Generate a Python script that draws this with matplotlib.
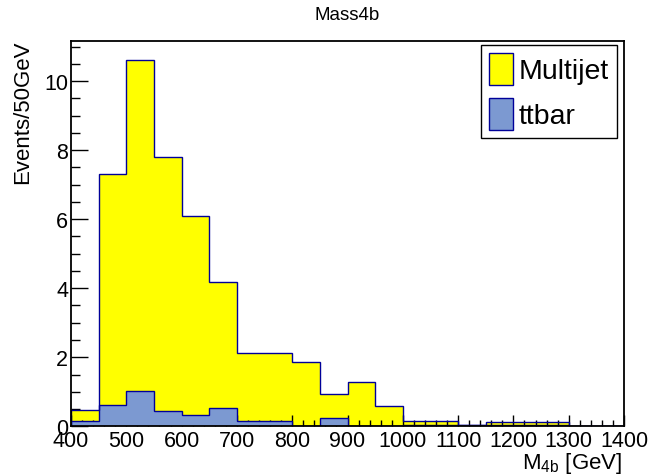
import numpy as np
import matplotlib
matplotlib.use("Agg")
import matplotlib.pyplot as plt
from matplotlib.patches import Patch
from matplotlib.ticker import MultipleLocator

plt.rcParams['font.family'] = ['Liberation Sans', 'DejaVu Sans']
plt.rcParams['mathtext.fontset'] = 'custom'
plt.rcParams['mathtext.rm'] = 'Liberation Sans'
plt.rcParams['mathtext.it'] = 'Liberation Sans'

# ---- data ----
bin_edges = list(range(400, 1401, 50))
ttbar = [0.15, 0.63, 1.01, 0.43, 0.34, 0.53, 0.14, 0.14, 0.0, 0.23,
         0.0, 0.0, 0.04, 0.04, 0.03, 0.03, 0.03, 0.03, 0.0, 0.0]
multijet = [0.33, 6.67, 9.61, 7.38, 5.74, 3.64, 1.98, 1.98, 1.85, 0.71,
            1.27, 0.58, 0.12, 0.12, 0.0, 0.09, 0.09, 0.09, 0.0, 0.0]
labels = ["Multijet", "ttbar"]
title = "Mass4b"
xlabel = r"$\mathregular{M_{4b}}$ [GeV]"
ylabel = "Events/50GeV"

edges = np.array(bin_edges, dtype=float)
tt = np.array(ttbar)
total = tt + np.array(multijet)

yellow = "#ffff00"
blue = "#7c99d1"
line = "#000099"

fig = plt.figure(figsize=(6.49, 4.77), dpi=100)
W, H = 649, 477
ax = fig.add_axes([71 / W, 1 - 427.3 / H, (624 - 71) / W, (427.3 - 42) / H])

ax.stairs(total, edges, fill=True, color=yellow, linewidth=0, zorder=1)
ax.stairs(tt, edges, fill=True, color=blue, linewidth=0, zorder=2)
ax.stairs(total, edges, fill=False, color=line, linewidth=1.0, zorder=3)
ax.stairs(tt, edges, fill=False, color=line, linewidth=1.0, zorder=4)

ax.set_xlim(400, 1400)
ax.set_ylim(0, 11.16)

ax.xaxis.set_major_locator(MultipleLocator(100))
ax.xaxis.set_minor_locator(MultipleLocator(20))
ax.yaxis.set_major_locator(MultipleLocator(2))
ax.yaxis.set_minor_locator(MultipleLocator(0.5))
ax.tick_params(axis='both', which='both', direction='in', top=False, right=False,
               width=1.0, color='black', zorder=10)
ax.tick_params(axis='x', which='major', length=8.2, pad=3, labelsize=15.5)
ax.tick_params(axis='x', which='minor', length=4.1)
ax.tick_params(axis='y', which='major', length=12.2, pad=2, labelsize=15.5)
ax.tick_params(axis='y', which='minor', length=6.2)
for sp in ax.spines.values():
    sp.set_linewidth(1.3)
    sp.set_zorder(10)

fig.text(347.5 / W, 1 - 15 / H, title, ha='center', va='center', fontsize=13.5)
fig.text(23 / W, 1 - 40 / H, ylabel, rotation=90, ha='center', va='top', fontsize=16)
fig.text(622 / W, 1 - 469 / H, xlabel, ha='right', va='baseline', fontsize=16)

handles = [Patch(facecolor=yellow, edgecolor=line, linewidth=1.0),
           Patch(facecolor=blue, edgecolor=line, linewidth=1.0)]
leg = fig.legend(handles, labels, loc='upper right',
                 bbox_to_anchor=(617 / W, 1 - 46 / H), bbox_transform=fig.transFigure,
                 fontsize=20.5, frameon=True, fancybox=False, framealpha=1,
                 edgecolor='black', borderpad=0.28, handlelength=0.82,
                 handleheight=1.35, handletextpad=0.22, labelspacing=0.45,
                 borderaxespad=0)
leg.get_frame().set_linewidth(1.0)

fig.savefig("out.png", dpi=100)
